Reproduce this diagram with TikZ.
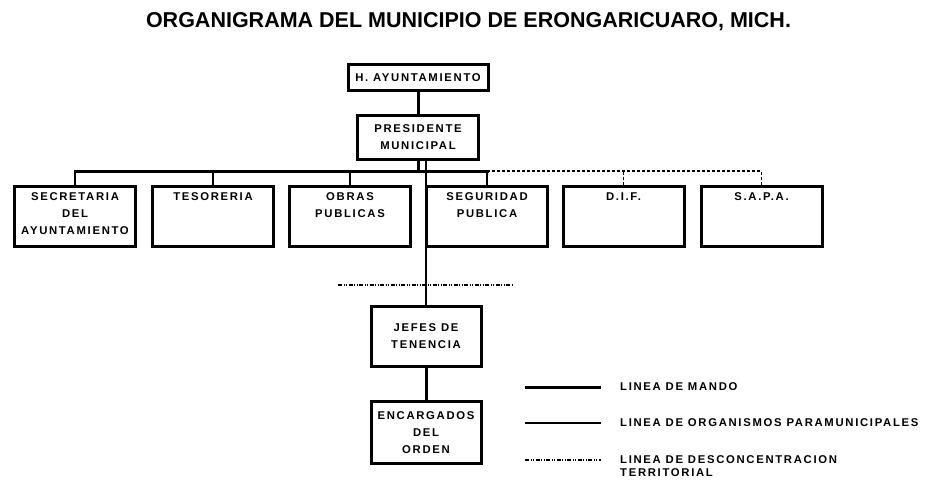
\documentclass[tikz,border=0pt]{standalone}
\usepackage{fontspec}
\setmainfont{Liberation Sans}
\newfontfamily\kastenfont{Liberation Sans}[LetterSpace=15]
\usepackage{tikz}
\usetikzlibrary{positioning,calc}

% Text oben im Kasten
\newcommand{\obentext}[1]{\parbox[c][47pt][t]{116pt}{\centering #1}}

\begin{document}
\begin{tikzpicture}[x=1pt,y=-1pt,
    kasten/.style={draw, line width=3pt, minimum width=121pt, minimum height=60pt, inner sep=0pt, align=center, font=\kastenfont\bfseries\fontsize{11.3}{17}\selectfont},
    legende/.style={inner sep=0pt, align=left, font=\kastenfont\bfseries\fontsize{11.3}{13.5}\selectfont},
    mando/.style={line width=3pt, line cap=rect},
    ast/.style={line width=2pt},
    linie/.style={line width=2.2pt},
    duenn/.style={line width=1.5pt},
    para/.style={line width=1.7pt, dash pattern=on 3pt off 2pt},
    territorial/.style={line width=1.3pt, dash pattern=on 4pt off 1.5pt on 1pt off 1.5pt on 1pt off 1.5pt}]
        \useasboundingbox (0,0) rectangle (926,487);

        % Überschrift
        \node[anchor=base, inner sep=0pt, font=\bfseries\fontsize{21.5}{24}\selectfont] (titel) at (468.5,28) {ORGANIGRAMA DEL MUNICIPIO DE ERONGARICUARO, MICH.};

        % Kästchen
        \node[kasten, minimum width=140pt, minimum height=26pt] (ayunt) at (418,77.5) {H. AYUNTAMIENTO};
        \node[kasten, minimum height=44pt] (pres) at (418,137.5) {PRESIDENTE\\MUNICIPAL};
        \node[kasten] (secre) at (75,216) {\obentext{SECRETARIA\\DEL\\AYUNTAMIENTO}};
        \node[kasten] (teso) at (213,216) {\obentext{TESORERIA}};
        \node[kasten] (obras) at (350,216) {\obentext{OBRAS\\PUBLICAS}};
        \node[kasten] (segur) at (487,216) {\obentext{SEGURIDAD\\PUBLICA}};
        \node[kasten] (dif) at (623.5,216) {\obentext{D.I.F.}};
        \node[kasten] (sapa) at (761.5,216) {\obentext{S.A.P.A.}};
        \node[kasten, minimum width=110pt, minimum height=60pt] (jefes) at (426,336) {JEFES DE\\TENENCIA};
        \node[kasten, minimum width=110pt, minimum height=62pt] (encar) at (426,432.5) {ENCARGADOS\\DEL\\ORDEN};

        % Linien
        \coordinate (schiene) at (0,171);
        \draw[mando] (ayunt) -- (pres);
        \draw[mando] (pres.south) -- (pres.south |- schiene);
        \draw[mando] (secre.north |- schiene) -- (segur.north |- schiene);
        \foreach \k in {secre,teso,obras,segur}
            \draw[ast] (\k.north) -- (\k.north |- schiene);
        \draw[para] (segur.north |- schiene) -- (sapa.north |- schiene);
        \foreach \k in {dif,sapa}
            \draw[para] (\k.north) -- (\k.north |- schiene);
        \draw[linie] (pres.south -| jefes.north) -- (jefes.north);
        \draw[mando] (jefes) -- (encar);
        \coordinate (terrL) at (338,285);
        \coordinate (terrR) at (513,285);
        \draw[territorial] (terrL) -- (terrR);

        % Legende
        \coordinate (leg1) at (525,387);
        \coordinate (leg2) at (525,423);
        \coordinate (leg3) at (525,460);
        \node[legende, anchor=west] (lmando) at (620,387) {LINEA DE MANDO};
        \node[legende, anchor=west] (lpara) at (620,423) {LINEA DE ORGANISMOS PARAMUNICIPALES};
        \node[legende, anchor=north west] (lterr) at (620,455) {LINEA DE DESCONCENTRACION\\TERRITORIAL};
        \draw[mando, line cap=butt] (leg1) -- ++(76,0);
        \draw[duenn] (leg2) -- ++(76,0);
        \draw[territorial] (leg3) -- ++(76,0);

\end{tikzpicture}
\end{document}
